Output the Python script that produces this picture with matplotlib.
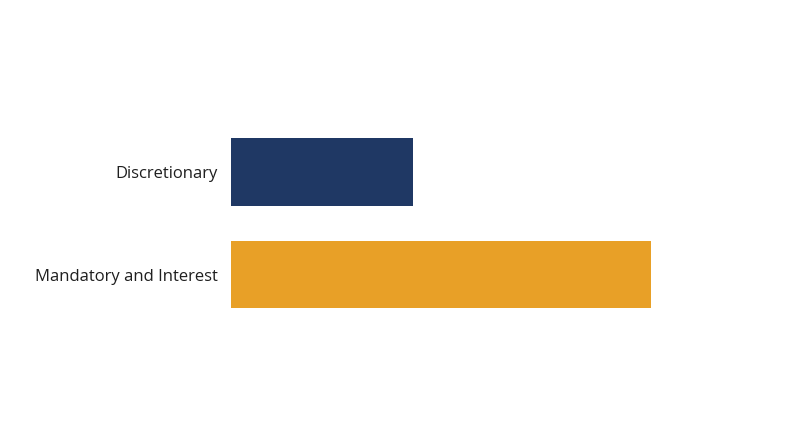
import matplotlib
matplotlib.use("Agg")
import matplotlib.pyplot as plt

categories = ["Discretionary", "Mandatory and Interest"]
values = [30.3, 70]
colors = ["#1F3864", "#E8A027"]

plt.rcParams['font.family'] = ['Open Sans', 'DejaVu Sans']

fig = plt.figure(figsize=(8, 4.47), dpi=100)
ax = fig.add_axes([0.28875, 0.2712, 0.6, 0.4586])
ax.barh(categories, values, color=colors, height=0.66)
ax.set_ylim(1.5, -0.5)
ax.set_xlim(0, 80)
for s in ax.spines.values():
    s.set_visible(False)
ax.set_xticks([])
ax.tick_params(axis='y', length=0, pad=9.5, labelsize=12, labelcolor="#1f1f1f")
fig.savefig("out.png", dpi=100, facecolor="white")
